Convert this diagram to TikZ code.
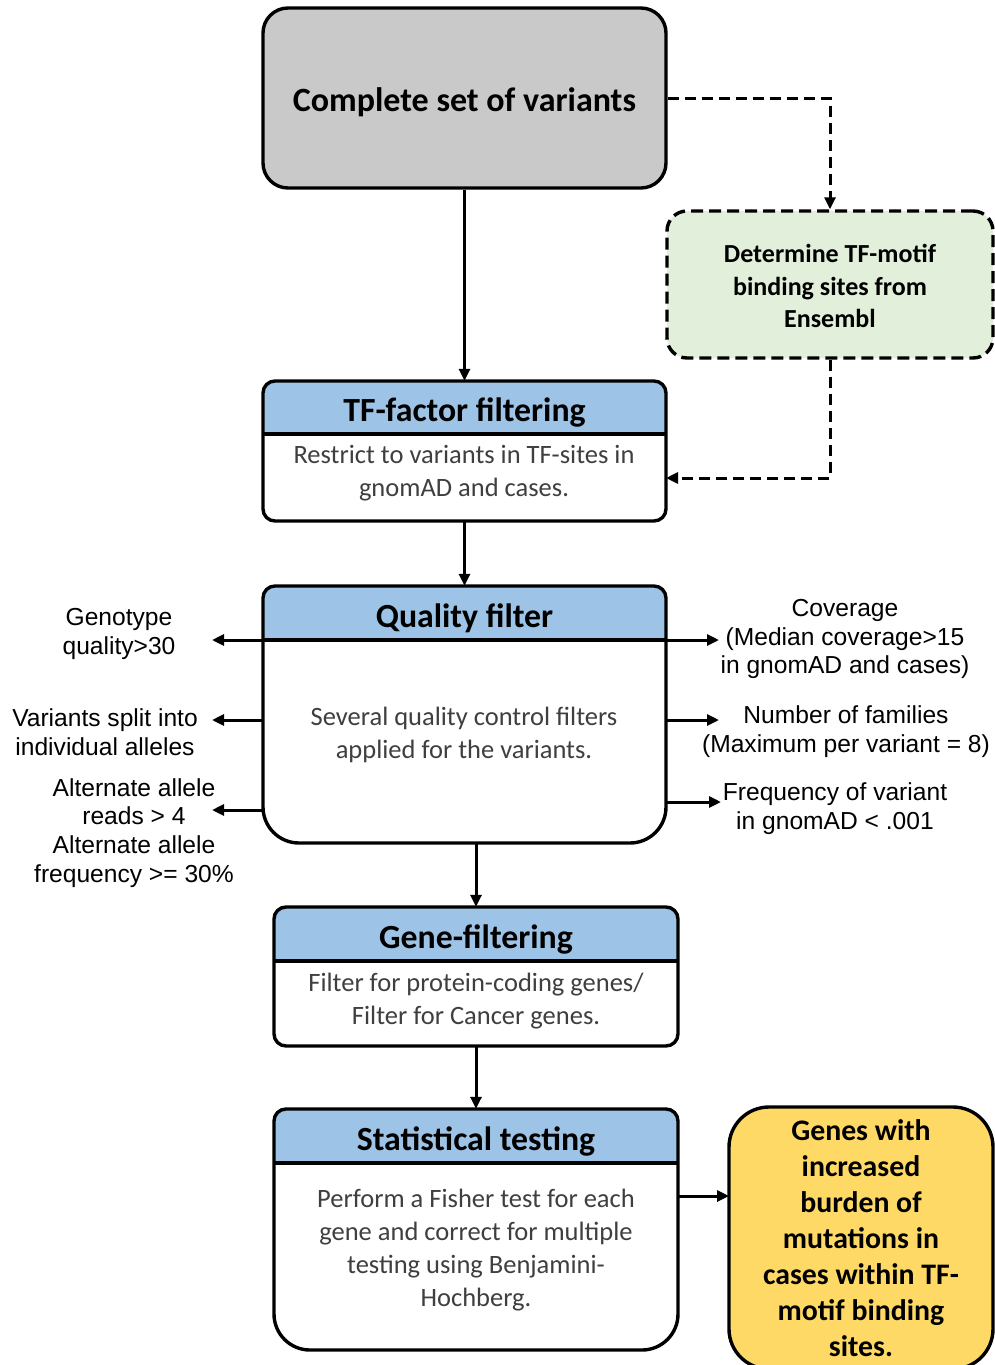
\documentclass[tikz,border=0pt]{standalone}
\usepackage{fontspec}
\setmainfont{Carlito}
\newfontfamily\arialfont{Liberation Sans}
\usetikzlibrary{fit,arrows.meta}

\definecolor{startgray}{HTML}{C9C9C9}
\definecolor{motifgreen}{HTML}{E2EFDA}
\definecolor{hdrblue}{HTML}{9DC3E6}
\definecolor{resultyellow}{HTML}{FFD966}
\definecolor{bodygray}{HTML}{3F3F3F}

\tikzset{
  boxline/.style={line width=3.4pt},
  ttl/.style={font=\bfseries\fontsize{33.8}{40}\selectfont, inner sep=0pt},
  bodytxt/.style={font=\fontsize{26.5}{33}\selectfont, text=bodygray, align=center, inner sep=0pt},
  lbl/.style={font=\arialfont\fontsize{24.6}{28.8}\selectfont, align=center, inner sep=0pt},
  arr/.style={line width=3pt, -{Triangle[length=12pt,width=11pt]}},
  darr/.style={arr, dash pattern=on 11pt off 6pt},
}

% stage box with a blue title band:
% #1 name, #2 left, #3 top, #4 right, #5 bottom, #6 band bottom, #7 lower corner radius, #8 title
\newcommand\stagebox[8]{%
  \node[fit={(#2,#3) (#4,#5)}, inner sep=0pt] (#1) {};
  \begin{scope}
    \clip (#2,#6) [rounded corners=12pt] |- (#4,#3) -- (#4,#6) [rounded corners=#7] |- (#2,#5) -- cycle;
    \fill[white] (#2,#3) rectangle (#4,#5);
    \fill[hdrblue] (#2,#3) rectangle (#4,#6);
  \end{scope}
  \draw[boxline] (#2,#6) [rounded corners=12pt] |- (#4,#3) -- (#4,#6) [rounded corners=#7] |- (#2,#5) -- cycle;
  \draw[boxline] (#2,#6) -- (#4,#6);
  \node[ttl] (#1-title) at ({(#2+#4)/2},{(#3+#6)/2+5}) {#8};
}

\begin{document}
\begin{tikzpicture}[x=1pt, y=-1pt]
\useasboundingbox (0,0) rectangle (995,1365);
\fill[white] (0,0) rectangle (995,1365);

% starting set
\node[draw, boxline, rounded corners=25pt, fill=startgray, minimum width=403pt, minimum height=180pt,
      inner sep=0pt, text height=33.5pt, text depth=6.8pt,
      font=\bfseries\fontsize{34}{40}\selectfont] (all) at (464.5,98) {Complete set of variants};

% motif source
\node[draw, boxline, dash pattern=on 12pt off 6pt, rounded corners=20pt, fill=motifgreen,
      minimum width=326pt, minimum height=147pt, inner sep=0pt, align=center,
      font=\bfseries\fontsize{26}{32.5}\selectfont] (motif) at (830,284.5)
      {\rule{0pt}{22pt}Determine TF-motif\\binding sites from\\Ensembl};

% filtering stages
\stagebox{tf}{263}{381}{666}{521}{434}{12pt}{TF-factor filtering}
\node[bodytxt] (tf-body) at (464,473) {Restrict to variants in TF-sites in\\gnomAD and cases.};

\stagebox{qual}{263}{586}{666}{843}{640}{36pt}{Quality filter}
\node[bodytxt] (qual-body) at (464,735) {Several quality control filters\\applied for the variants.};

\stagebox{gene}{274}{907}{678}{1046}{961}{12pt}{Gene-filtering}
\node[bodytxt] (gene-body) at (476,1001) {Filter for protein-coding genes/\\Filter for Cancer genes.};

\stagebox{stat}{274}{1109}{678}{1350}{1163}{36pt}{Statistical testing}
\node[bodytxt] (stat-body) at (476,1250) {Perform a Fisher test for each\\gene and correct for multiple\\testing using Benjamini-\\Hochberg.};

% result
\node[draw, boxline, rounded corners=40pt, fill=resultyellow, minimum width=264pt, minimum height=262pt,
      inner sep=0pt, align=center, font=\bfseries\fontsize{29.8}{36}\selectfont] (result) at (861,1238)
      {Genes with\\increased\\burden of\\mutations in\\cases within TF-\\motif binding\\sites.};

% quality criteria
\node[lbl] (geno)  at (119,634) {Genotype\\quality>30};
\node[lbl] (split) at (105,732) {Variants split into\\individual alleles};
\node[lbl] (alt)   at (134,833) {Alternate allele\\reads > 4\\Alternate allele\\frequency >= 30\%};
\node[lbl] (cov)   at (845,639) {Coverage\\(Median coverage>15\\in gnomAD and cases)};
\node[lbl] (fam)   at (846,732) {Number of families\\(Maximum per variant = 8)};
\node[lbl] (freq)  at (835,809) {Frequency of variant\\in gnomAD < .001};

\coordinate (geno-tip)  at (212,640);
\coordinate (split-tip) at (212,720);
\coordinate (alt-tip)   at (212,810);
\coordinate (cov-tip)   at (719,640);
\coordinate (fam-tip)   at (719,720);
\coordinate (freq-tip)  at (721,802);
\coordinate (tf-in)     at (666,478);
\coordinate (result-in) at (729,1196);

% main flow
\draw[arr] (all.south) -- (tf.north);
\draw[arr] (tf.south) -- (qual.north);
\draw[arr] (qual.south -| gene.north) -- (gene.north);
\draw[arr] (gene.south) -- (stat.north);
\draw[arr] (stat.east |- result-in) -- (result-in);

% motif side path
\draw[darr] (all.east) -| (motif.north);
\draw[darr] (motif.south) |- (tf-in);

% quality criteria arrows
\draw[arr] (qual.west |- geno-tip) -- (geno-tip);
\draw[arr] (qual.west |- split-tip) -- (split-tip);
\draw[arr] (qual.west |- alt-tip) -- (alt-tip);
\draw[arr] (qual.east |- cov-tip) -- (cov-tip);
\draw[arr] (qual.east |- fam-tip) -- (fam-tip);
\draw[arr] (qual.east |- freq-tip) -- (freq-tip);
\end{tikzpicture}
\end{document}
